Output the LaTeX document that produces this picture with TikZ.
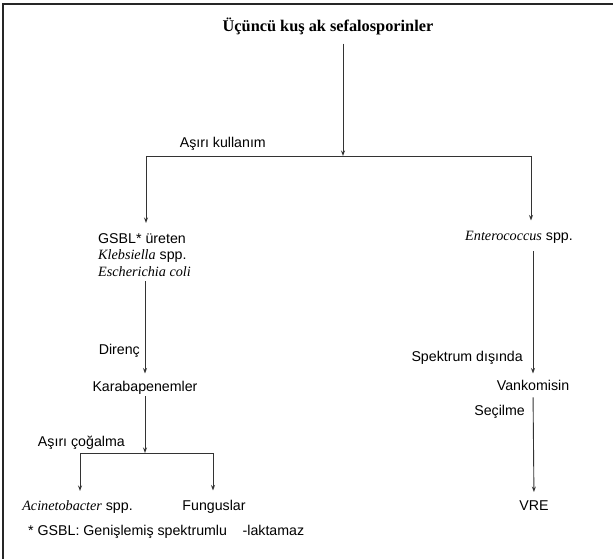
\documentclass[tikz,border=0pt]{standalone}
\usepackage{fontspec}
\setmainfont{Liberation Sans}
\newfontfamily\serifrm{Liberation Serif}
\usetikzlibrary{arrows.meta, positioning}

\begin{document}
\begin{tikzpicture}[x=1pt, y=-1pt,
        lbl/.style={font=\fontsize{14.2}{16.5}\selectfont, inner sep=0pt, anchor=base},
        flow/.style={draw=black!80, line width=0.9pt, -{Stealth[length=5.5pt,width=4pt]}},
        branch/.style={draw=black!80, line width=0.9pt}]
        \useasboundingbox (0,0) rectangle (613,559);
        \draw[line width=1.4pt, black!85] (3,559) -- (3,4) -- (613,4);

        % top of the tree
        \node[lbl, font=\serifrm\bfseries\fontsize{16.3}{19}\selectfont] (ceph) at (328,32) {Üçüncü kuş ak sefalosporinler};
        \node[lbl, anchor=base east] (overuse) at (266,148) {Aşırı kullanım};
        \coordinate (split) at (343,156);
        \coordinate (splitL) at (146,156);
        \coordinate (splitR) at (531,156);
        \draw[flow, shorten <=8pt] (ceph.south -| split) -- (split);
        \draw[branch] (splitL) -- (splitR);

        % left branch
        \node[lbl, anchor=north west, align=left] (gsbl) at (98,233)
            {GSBL* üreten\\{\serifrm\itshape Klebsiella} spp.\\{\serifrm\itshape Escherichia coli}};
        \draw[flow, shorten >=10pt] (splitL) -- (splitL |- gsbl.north);
        \node[lbl] (karba) at (145,391) {Karabapenemler};
        \node[lbl, anchor=base east] (resist) at (140,354) {Direnç};
        \draw[flow, shorten <=5pt, shorten >=7pt] (karba |- gsbl.south) -- (karba.north);
        \node[lbl, anchor=base east] (growth) at (125,446) {Aşırı çoğalma};
        \coordinate (split2) at (145,453);
        \coordinate (split2L) at (80,453);
        \coordinate (split2R) at (213,453);
        \draw[flow, shorten <=2pt] (karba.south) -- (split2);
        \draw[branch] (split2L) -- (split2R);
        \node[lbl] (acin) at (77.5,510) {{\serifrm\itshape Acinetobacter} spp.};
        \node[lbl] (fungi) at (214,510) {Funguslar};
        \draw[flow, shorten >=9pt] (split2L) -- (split2L |- acin.north);
        \draw[flow, shorten >=9pt] (split2R) -- (split2R |- fungi.north);

        % right branch
        \node[lbl] (entero) at (519,240) {{\serifrm\itshape Enterococcus} spp.};
        \draw[flow, shorten >=10pt] (splitR) -- (splitR |- entero.north);
        \node[lbl] (vanko) at (533,390) {Vankomisin};
        \node[lbl, anchor=base east] (spectrum) at (523,361) {Spektrum dışında};
        \draw[flow, shorten <=8pt, shorten >=6pt] (vanko |- entero.south) -- (vanko.north);
        \node[lbl] (vre) at (534,510) {VRE};
        \node[lbl, anchor=base east] (select) at (525,415) {Seçilme};
        \draw[flow, shorten <=7pt, shorten >=8pt] (vanko.south) -- (vre.north);

        % footnote
        \node[lbl, anchor=base west] (note) at (28,535) {* GSBL: Genişlemiş spektrumlu\hspace{1.1em}-laktamaz};
    \end{tikzpicture}
\end{document}
